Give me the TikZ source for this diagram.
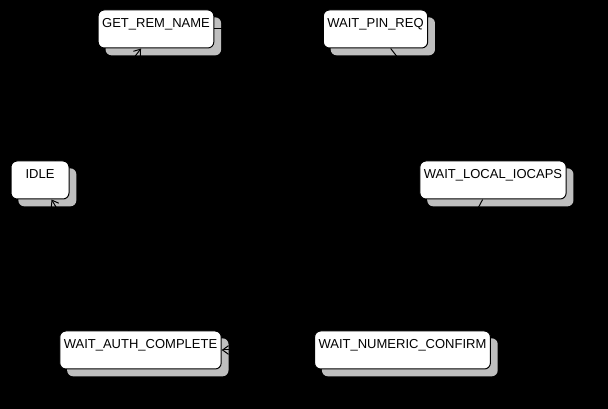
\documentclass[tikz,border=0pt]{standalone}
\usepackage{fontspec}
\setmainfont{Liberation Sans}
\usetikzlibrary{shadows, arrows.meta}
\tikzset{
every picture/.style={
line width=0.75pt
}}

\begin{document}
\begin{tikzpicture}[x=0.75pt, y=-0.75pt,
block/.style = {rectangle, draw=black, fill=white, rounded corners=4.5pt,
  inner xsep=3pt, inner ysep=0pt, text height=13.3pt, text depth=15.2pt,
  minimum width=43.5pt, font=\fontsize{9.75}{11}\selectfont,
  drop shadow={shadow xshift=5.5pt, shadow yshift=-5.5pt, draw=none, fill=black!25, opacity=1}},
trans/.style = {draw=black, -{Straight Barb[length=4.5pt, width=6.5pt]}}]

  \fill[black] (0,0) rectangle (608,409);
  \useasboundingbox (0,0) rectangle (608,409);

  \node[block] (getrem)  at (156,29)    {GET\_REM\_NAME};
  \node[block] (pinreq)  at (375.5,29)  {WAIT\_PIN\_REQ};
  \node[block] (idle)    at (40,180)    {IDLE};
  \node[block] (iocaps)  at (493,180)   {WAIT\_LOCAL\_IOCAPS};
  \node[block] (auth)    at (140.5,350) {WAIT\_AUTH\_COMPLETE};
  \node[block] (numeric) at (402.5,350) {WAIT\_NUMERIC\_CONFIRM};

  \draw[trans] (idle) -- (getrem);
  \draw[trans] (getrem) -- (pinreq);
  \draw[trans] (pinreq) -- (iocaps);
  \draw[trans] (iocaps) -- (numeric);
  \draw[trans] (numeric) -- (auth);
  \draw[trans] (auth) -- (idle);

\end{tikzpicture}
\end{document}
